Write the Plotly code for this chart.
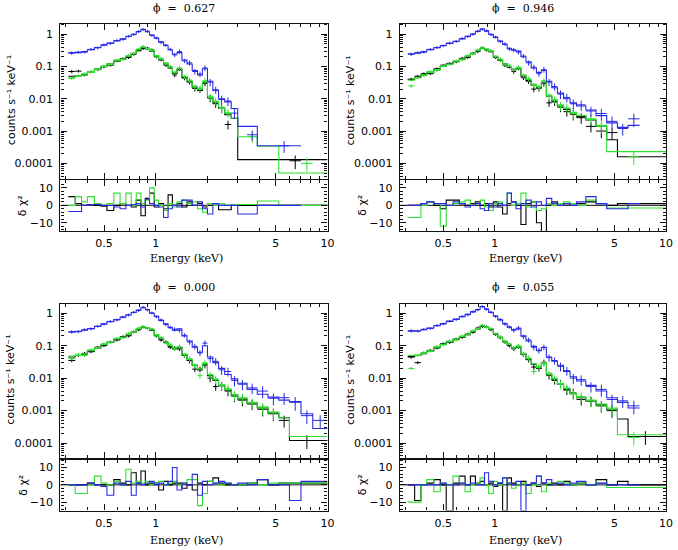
import plotly.graph_objects as go

# ---------------- data ----------------
ENERGY_EDGES = [0.31, 0.34, 0.37, 0.40, 0.44, 0.48, 0.52, 0.57, 0.62, 0.67, 0.72, 0.77, 0.82, 0.87,
                0.92, 0.98, 1.04, 1.11, 1.18, 1.25, 1.33, 1.42, 1.52, 1.63, 1.75, 1.87, 2.00, 2.15,
                2.32, 2.52, 2.75, 3.0, 3.4, 3.9, 4.5, 5.2, 6.0, 7.0, 8.2, 10.0]
REL_ERR = [0.12, 0.1, 0.1, 0.1, 0.1, 0.1, 0.1, 0.1, 0.1, 0.1, 0.1, 0.1, 0.1, 0.1, 0.1, 0.1, 0.12, 0.12,
           0.12, 0.15, 0.15, 0.15, 0.18, 0.2, 0.2, 0.2, 0.25, 0.25, 0.3, 0.3, 0.35, 0.35, 0.35, 0.4,
           0.4, 0.4, 0.45, 0.45, 0.45]

TITLES = ["\u03d5  =  0.627", "\u03d5  =  0.946", "\u03d5  =  0.000", "\u03d5  =  0.055"]

# phase 0.627
P1_BLACK_MODEL = [0.05, 0.052, 0.056, 0.066, 0.083, 0.10, 0.12, 0.145, 0.17, 0.20, 0.25, 0.31, 0.38, 0.35, 0.30, 0.21, 0.16, 0.12, 0.09, 0.062, 0.08, 0.046, 0.033, 0.023, 0.018, 0.03, 0.011, 0.0075, 0.005, 0.0032, 0.0025, 0.00013, 0.00013, 0.00013, 0.00013, 0.00013, 0.00013, 0.00013, 0.00013]
P1_BLACK_DATA = [0.07, 0.072, 0.055, 0.068, 0.08, 0.098, 0.11, 0.15, 0.175, 0.19, 0.24, 0.33, 0.36, 0.37, 0.33, 0.2, 0.165, 0.11, 0.095, 0.055, 0.085, 0.044, 0.034, 0.021, 0.019, 0.031, 0.0105, 0.007, 0.0052, 0.0016, None, None, None, None, None, None, 0.00012, None, None]
P1_BLACK_RESID = [5, 1, 0, 0.5, 0, -0.5, -3, 0, 1, 0, -1, 3, -6, 4, 7, -1, 1, -2, 6, 0, 1, -1, 2, 0, 1, -1, 0, 0, -2.5, -2.5, 0, 0, 0, 0, 0, 0, 0, 0, 0]
P1_GREEN_MODEL = [0.045, 0.05, 0.055, 0.065, 0.085, 0.10, 0.12, 0.15, 0.17, 0.21, 0.26, 0.33, 0.40, 0.36, 0.31, 0.22, 0.17, 0.13, 0.095, 0.068, 0.085, 0.05, 0.036, 0.025, 0.02, 0.034, 0.012, 0.008, 0.0055, 0.0035, 0.0025, 0.00067, 0.00067, 0.00034, 0.00034, 0.00005, 0.00005, 0.00005, 0.00005]
P1_GREEN_DATA = [0.043, 0.052, 0.06, 0.07, 0.08, 0.105, 0.115, 0.16, 0.165, 0.22, 0.25, 0.35, 0.42, 0.34, 0.33, 0.21, 0.18, 0.12, 0.1, 0.065, 0.09, 0.048, 0.038, 0.023, 0.021, 0.036, 0.011, 0.0085, 0.005, 0.0037, None, None, 0.00067, None, None, None, None, 0.0001, None]
P1_GREEN_RESID = [0, 5, 2, 5, 1, 0, 1, 7, 1, 7, 0, 7, 1, 3, 10, 3, 0, -3, 1, -1, 2, 3, 1, 2, -2, -4, 1, 0, 1, 0, 0.5, 0.5, 0.5, 2.5, 2.5, 0, 0, 0, 0]
P1_BLUE_MODEL = [0.27, 0.27, 0.29, 0.33, 0.39, 0.46, 0.53, 0.62, 0.72, 0.85, 1.0, 1.2, 1.42, 1.2, 0.95, 0.75, 0.58, 0.45, 0.33, 0.24, 0.27, 0.16, 0.12, 0.075, 0.055, 0.085, 0.035, 0.018, 0.010, 0.008, 0.005, 0.0014, 0.0014, 0.00035, 0.00035, 0.00035, 0.00035]
P1_BLUE_DATA = [0.26, 0.28, 0.28, 0.34, 0.38, 0.47, 0.52, 0.64, 0.70, 0.87, 0.98, 1.22, 1.40, 1.24, 0.92, 0.77, 0.56, 0.46, 0.34, 0.23, 0.29, 0.15, 0.13, 0.07, 0.058, 0.09, 0.033, 0.019, 0.0095, 0.0085, 0.0036, None, 0.00077, None, None, 0.00035, None]
P1_BLUE_RESID = [-3.5, -3.5, 0, 0.5, 0.5, 0, 0, -1, -2, 0, 0.5, 1, -1, 3.5, 1, 0, -1, -7, -2, 0, -1, 3, 3, 0, 2, -2, -5, 1, 0, 0, 0, -5, -5, 0, 0, 0, 0]

# phase 0.946
P2_BLACK_MODEL = [0.04, 0.046, 0.055, 0.066, 0.082, 0.1, 0.12, 0.145, 0.17, 0.2, 0.25, 0.3, 0.36, 0.34, 0.29, 0.2, 0.155, 0.12, 0.095, 0.08, 0.085, 0.05, 0.037, 0.026, 0.022, 0.031, 0.012, 0.0085, 0.006, 0.0047, 0.0036, 0.0028, 0.0022, 0.0014, 0.00054, 0.00016, 0.00016, 0.00016, 0.00016]
P2_BLACK_DATA = [0.04, 0.05, 0.06, 0.06, 0.085, 0.11, 0.125, 0.14, 0.18, 0.19, 0.26, 0.29, 0.38, 0.32, 0.3, 0.19, 0.16, 0.11, 0.1, 0.07, 0.09, 0.045, 0.035, 0.02, 0.021, 0.03, 0.0075, 0.008, 0.0055, 0.004, 0.0033, 0.0026, 0.0014, 0.001, 0.0009, None, None, None, None]
P2_BLACK_RESID = [0, 0, 1, 2, 0, -2, 3, 3, 1, 0, 1, 2, 0, 1, -1, 2, -1, -5, 1, 2, 0, -11, 1, 2, -10, -15, 0, 2, 1, 1, 0, 1, 2, 1, 0, 1, 1, 1, 1]
P2_GREEN_MODEL = [0.038, 0.045, 0.055, 0.065, 0.08, 0.1, 0.12, 0.14, 0.17, 0.21, 0.26, 0.31, 0.37, 0.35, 0.3, 0.21, 0.16, 0.12, 0.1, 0.085, 0.09, 0.055, 0.04, 0.028, 0.024, 0.034, 0.013, 0.009, 0.0065, 0.005, 0.0038, 0.003, 0.0023, 0.0015, 0.00023, 0.00023, 0.00023, 0.00023, 0.00023]
P2_GREEN_DATA = [0.025, 0.045, 0.052, 0.07, 0.075, 0.105, 0.115, 0.15, 0.16, 0.22, 0.25, 0.33, 0.38, 0.33, 0.31, 0.2, 0.17, 0.115, 0.11, 0.08, 0.095, 0.052, 0.042, 0.026, 0.022, 0.036, 0.012, 0.0095, 0.006, 0.0052, 0.0035, None, 0.0024, 0.0014, None, None, 0.00016, None, None]
P2_GREEN_RESID = [-7, -7, 0, 2, 1, -12, 0, 1, 2, 3, 0, 1, 3, -1, -3, 1, 2, 0, 7, 0, 1, 7, -1, 2, -3, -2, 1, 0, 1, 2, 1, 0, 3, 1, -1.5, -1.5, -1.5, -1.5, -1.5]
P2_BLUE_MODEL = [0.25, 0.26, 0.29, 0.33, 0.38, 0.45, 0.52, 0.61, 0.72, 0.86, 1.02, 1.22, 1.45, 1.25, 1.0, 0.8, 0.62, 0.48, 0.37, 0.32, 0.30, 0.2, 0.14, 0.09, 0.065, 0.075, 0.035, 0.022, 0.015, 0.01, 0.0075, 0.006, 0.0045, 0.003, 0.0018, 0.0013, 0.0015]
P2_BLUE_DATA = [0.24, 0.27, 0.28, 0.34, 0.39, 0.44, 0.53, 0.6, 0.74, 0.85, 1.0, 1.25, 1.43, 1.28, 0.97, 0.82, 0.6, 0.5, 0.35, 0.33, 0.28, 0.21, 0.13, 0.095, 0.06, 0.08, 0.033, 0.024, 0.014, 0.011, 0.007, 0.0065, 0.0042, 0.0035, 0.002, 0.0012, 0.0024]
P2_BLUE_RESID = [0, 0, 1, 2, 1, 1, 0, 2, 1, -1, 0, 1, -2, -3, 1, -1, 1, 0, 7, 2, -2, 1, 3, -1, 2, 0, 4, 1, 0, 1, 0, 2, 5, 1, -2, -2, 1]

# phase 0.000
P3_BLACK_MODEL = [0.045, 0.05, 0.055, 0.068, 0.085, 0.105, 0.125, 0.155, 0.18, 0.21, 0.26, 0.32, 0.37, 0.35, 0.3, 0.21, 0.16, 0.125, 0.095, 0.08, 0.087, 0.052, 0.036, 0.025, 0.018, 0.027, 0.012, 0.0085, 0.006, 0.0043, 0.003, 0.0023, 0.0017, 0.0012, 0.00085, 0.0006, 0.00012, 0.00012, 0.00012]
P3_BLACK_DATA = [0.035, 0.05, 0.058, 0.065, 0.09, 0.1, 0.13, 0.15, 0.19, 0.2, 0.27, 0.31, 0.38, 0.34, 0.31, 0.2, 0.15, 0.13, 0.09, 0.085, 0.08, 0.05, 0.035, 0.019, 0.019, 0.025, 0.01, 0.0055, 0.0058, 0.004, 0.0028, 0.0021, 0.0016, 0.0011, 0.0008, 0.0005, None, 0.00012, None]
P3_BLACK_RESID = [0, 0, 0, 1, 0, 0, 0, 3, 1, 0, 7, 1, 8, 0, 1, 1, -3, 2, 0, 1, 1, -2, 0, -3, 1, 0, 2, 4, 1, 0, 0, 0, 1, 3, 0, 1, 1, 1, 1]
P3_GREEN_MODEL = [0.048, 0.05, 0.056, 0.07, 0.088, 0.11, 0.13, 0.16, 0.18, 0.22, 0.27, 0.33, 0.38, 0.36, 0.31, 0.22, 0.17, 0.13, 0.1, 0.085, 0.09, 0.055, 0.038, 0.026, 0.019, 0.028, 0.013, 0.009, 0.0062, 0.0045, 0.0032, 0.0024, 0.0018, 0.0013, 0.0009, 0.0006, 0.00016, 0.00016, 0.00016]
P3_GREEN_DATA = [0.04, 0.055, 0.05, 0.075, 0.085, 0.115, 0.125, 0.17, 0.175, 0.24, 0.26, 0.35, 0.39, 0.34, 0.33, 0.21, 0.18, 0.12, 0.11, 0.08, 0.095, 0.052, 0.04, 0.024, 0.012, 0.03, 0.0125, 0.0095, 0.006, 0.0047, 0.003, 0.0025, 0.0017, 0.0012, 0.00085, None, None, None, None]
P3_GREEN_RESID = [0, -5, -5, 0, 5, 1, 0, 2, 0, 9, 1, 2, 1, 2, 0, 1, 2, 0, 1, 2, 0, 1, 3, 3, -12, -5, 2, 1, 0, 1, 0, 0, 1, 0, 1, 1, 1, 1, 1]
P3_BLUE_MODEL = [0.26, 0.28, 0.3, 0.34, 0.39, 0.47, 0.55, 0.64, 0.75, 0.9, 1.05, 1.25, 1.5, 1.3, 1.0, 0.8, 0.6, 0.47, 0.36, 0.3, 0.33, 0.2, 0.14, 0.09, 0.063, 0.1, 0.045, 0.03, 0.02, 0.013, 0.0095, 0.007, 0.0045, 0.0032, 0.0026, 0.0021, 0.0019, 0.0008, 0.00028]
P3_BLUE_DATA = [0.27, 0.27, 0.31, 0.33, 0.4, 0.46, 0.56, 0.62, 0.77, 0.88, 1.07, 1.22, 1.52, 1.27, 1.02, 0.78, 0.62, 0.45, 0.37, 0.32, 0.3, 0.21, 0.13, 0.095, 0.06, 0.12, 0.04, 0.033, 0.018, 0.016, 0.0085, 0.0065, 0.005, 0.004, 0.0024, 0.0025, 0.0018, 0.0007, 0.0005]
P3_BLUE_RESID = [0, 0, 0, 1, 0, -1, -6, 1, 0, 2, -6, 1, 0, 1, 2, 0, 1, 0, 2, 10, -3, 1, 0, 6, -6, 2, 0, 1, 2, 1, 0, 1, 0, 3, 0, 0, -9, 2, 2]

# phase 0.055
P4_BLACK_MODEL = [0.046, 0.05, 0.057, 0.069, 0.088, 0.11, 0.13, 0.155, 0.185, 0.22, 0.27, 0.33, 0.4, 0.37, 0.32, 0.23, 0.175, 0.135, 0.105, 0.085, 0.09, 0.055, 0.038, 0.027, 0.02, 0.029, 0.013, 0.009, 0.0065, 0.0046, 0.0033, 0.0025, 0.002, 0.0015, 0.0011, 0.00055, 0.00016, 0.00016, 0.00016]
P4_BLACK_DATA = [0.045, 0.03, 0.06, 0.072, 0.085, 0.115, 0.125, 0.16, 0.18, 0.23, 0.26, 0.35, 0.39, 0.38, 0.31, 0.22, 0.18, 0.13, 0.1, 0.08, 0.095, 0.053, 0.037, 0.022, 0.02, 0.031, 0.012, 0.0085, 0.0068, 0.0043, 0.0035, 0.0022, 0.002, 0.0014, 0.001, None, None, 0.00016, None]
P4_BLACK_RESID = [0, -9, 0, 1, 3, 0, -15, 1, 5, 0, 5, 1, 2, 0, 1, -1, 1, -15, 4, 1, 0, 2, 0, 1, -1, 1, 0, 1, 0, 2, 0, 1, 0, 3, 0, 2, 0, 0, 0]
P4_GREEN_MODEL = [0.05, 0.052, 0.058, 0.07, 0.09, 0.11, 0.13, 0.16, 0.19, 0.23, 0.28, 0.34, 0.41, 0.38, 0.33, 0.24, 0.18, 0.14, 0.11, 0.09, 0.095, 0.058, 0.04, 0.028, 0.021, 0.03, 0.014, 0.0095, 0.0068, 0.0048, 0.0034, 0.0026, 0.0021, 0.0016, 0.0012, 0.00018, 0.00018, 0.00018, 0.00018]
P4_GREEN_DATA = [0.02, 0.05, 0.06, 0.068, 0.095, 0.105, 0.14, 0.15, 0.2, 0.22, 0.29, 0.33, 0.43, 0.37, 0.34, 0.23, 0.19, 0.13, 0.115, 0.085, 0.1, 0.055, 0.042, 0.016, 0.023, 0.028, 0.013, 0.01, 0.0065, 0.005, 0.0032, 0.0027, 0.002, 0.0014, 0.0011, None, 0.00015, None, None]
P4_GREEN_RESID = [-10, -10, 0, 3, -4, 1, 0, 5, 1, -4, 0, 1, 4, 0, -5, 2, 0, 4, 1, -2, 0, 1, -5, 0, 5, -4, 1, 0, 2, 1, 0, 1, 0, 1, -1.5, -1.5, -1.5, -1.5, -1.5]
P4_BLUE_MODEL = [0.28, 0.29, 0.31, 0.35, 0.41, 0.48, 0.56, 0.66, 0.78, 0.92, 1.1, 1.3, 1.6, 1.35, 1.05, 0.82, 0.62, 0.48, 0.37, 0.31, 0.33, 0.2, 0.14, 0.095, 0.07, 0.088, 0.045, 0.033, 0.025, 0.016, 0.011, 0.0082, 0.006, 0.004, 0.0025, 0.0018, 0.0012]
P4_BLUE_DATA = [0.29, 0.28, 0.32, 0.34, 0.42, 0.47, 0.57, 0.64, 0.8, 0.9, 1.12, 1.27, 1.62, 1.33, 1.08, 0.8, 0.64, 0.47, 0.38, 0.3, 0.35, 0.19, 0.15, 0.09, 0.072, 0.09, 0.043, 0.035, 0.023, 0.017, 0.01, 0.009, 0.0055, 0.0045, 0.0022, 0.002, 0.0014]
P4_BLUE_RESID = [0, 0, 0, 0, 0, 1, 0, 0, 1, 0, 1, 0, 0, 7, 2, 0, 1, 4, 1, 0, 2, -15, 0, 1, 5, 1, 3, 0, 1, 0, 1, 2, 0, 1, 0, 0, 0]

X_TICKS = [0.5, 1, 5, 10]
X_TICK_TEXT = ["0.5", "1", "5", "10"]
X_MINOR = [0.3, 0.4, 0.6, 0.7, 0.8, 0.9, 2, 3, 4, 6, 7, 8, 9]
Y_TICKS = [1, 0.1, 0.01, 0.001, 0.0001]
Y_TICK_TEXT = ["1", "0.1", "0.01", "0.001", "0.0001"]
R_TICKS = [-10, 0, 10]
R_TICK_TEXT = ["\u221210", "0", "10"]
R_MINOR = [-14, -12, -8, -6, -4, -2, 2, 4, 6, 8, 12, 14]

# ---------------- styling / layout ----------------
W, H = 678, 550
COLORS = {"black": "#000000", "green": "#30e030", "blue": "#2a2ae6"}
COL_X = [(61, 331), (404, 673)]
ROW_MAIN = [(23.5, 179), (303.5, 458)]
ROW_RES = [(180, 231), (459.5, 510.5)]
MAIN_YRANGE = [(-4.485, 0.333), (-4.46, 0.30)]
RES_YRANGE = [(-14.7, 14.5), (-14.8, 14.6)]
XRANGE = [-0.555, 1.0]
TICK_FONT = dict(family="DejaVu Sans", size=11, color="black")
LABEL_FONT = dict(family="DejaVu Serif", size=11, color="black")

y_minor = [m * 10 ** d for d in range(-5, 1) for m in range(2, 10)]

PANELS = [
    (TITLES[0], [(P1_BLACK_MODEL, P1_BLACK_DATA, P1_BLACK_RESID, "black"),
                 (P1_GREEN_MODEL, P1_GREEN_DATA, P1_GREEN_RESID, "green"),
                 (P1_BLUE_MODEL, P1_BLUE_DATA, P1_BLUE_RESID, "blue")]),
    (TITLES[1], [(P2_BLACK_MODEL, P2_BLACK_DATA, P2_BLACK_RESID, "black"),
                 (P2_GREEN_MODEL, P2_GREEN_DATA, P2_GREEN_RESID, "green"),
                 (P2_BLUE_MODEL, P2_BLUE_DATA, P2_BLUE_RESID, "blue")]),
    (TITLES[2], [(P3_BLACK_MODEL, P3_BLACK_DATA, P3_BLACK_RESID, "black"),
                 (P3_GREEN_MODEL, P3_GREEN_DATA, P3_GREEN_RESID, "green"),
                 (P3_BLUE_MODEL, P3_BLUE_DATA, P3_BLUE_RESID, "blue")]),
    (TITLES[3], [(P4_BLACK_MODEL, P4_BLACK_DATA, P4_BLACK_RESID, "black"),
                 (P4_GREEN_MODEL, P4_GREEN_DATA, P4_GREEN_RESID, "green"),
                 (P4_BLUE_MODEL, P4_BLUE_DATA, P4_BLUE_RESID, "blue")]),
]


def fit(lst, n):
    lst = list(lst[:n])
    return lst + [None] * (n - len(lst))


def ax_name(k, letter):
    return letter if k == 1 else f"{letter}{k}"


def px(xp):
    return xp / W


def py(yp):
    return 1 - yp / H


fig = go.Figure()
layout = {}
shapes = []
annotations = []

common_axis = dict(showline=True, linecolor="#111111", linewidth=1.3, mirror="ticks",
                   ticks="inside", tickcolor="#111111", tickwidth=1, ticklen=6,
                   showgrid=False, zeroline=False)

for i, (title, series) in enumerate(PANELS):
    col, row = i % 2, i // 2
    km, kr = 2 * i + 1, 2 * i + 2
    xm, ym, xr, yr = ax_name(km, "x"), ax_name(km, "y"), ax_name(kr, "x"), ax_name(kr, "y")

    for model, data, resid, cname in series:
        c = COLORS[cname]
        n = len(model)
        edges = ENERGY_EDGES[:n + 1]
        centers = [(ENERGY_EDGES[j] * ENERGY_EDGES[j + 1]) ** 0.5 for j in range(n)]
        dvals = fit(data, n)
        err = [(d * REL_ERR[j] if d is not None else 0) for j, d in enumerate(dvals)]
        ex_plus = [ENERGY_EDGES[j + 1] - centers[j] for j in range(n)]
        ex_minus = [centers[j] - ENERGY_EDGES[j] for j in range(n)]
        fig.add_trace(go.Scatter(
            x=centers, y=dvals, mode="markers", marker=dict(size=1, color=c),
            error_y=dict(type="data", array=err, visible=True, color=c, thickness=1, width=0),
            error_x=dict(type="data", array=ex_plus, arrayminus=ex_minus, symmetric=False,
                         visible=True, color=c, thickness=1, width=0),
            xaxis=xm, yaxis=ym, hoverinfo="skip", showlegend=False))
        fig.add_trace(go.Scatter(
            x=edges, y=list(model) + [model[-1]], mode="lines",
            line=dict(color=c, width=1.1, shape="hv"),
            xaxis=xm, yaxis=ym, hoverinfo="skip", showlegend=False))
        rvals = fit(resid, n)
        fig.add_trace(go.Scatter(
            x=edges, y=rvals + [rvals[-1]], mode="lines",
            line=dict(color=c, width=1.1, shape="hv"),
            xaxis=xr, yaxis=yr, hoverinfo="skip", showlegend=False))

    x0, x1 = COL_X[col]
    mt, mb = ROW_MAIN[row]
    rt, rb = ROW_RES[row]

    layout["xaxis" + ("" if km == 1 else str(km))] = dict(
        common_axis, type="log", domain=[px(x0), px(x1)], range=XRANGE, anchor=ym,
        tickmode="array", tickvals=X_TICKS, showticklabels=False,
        minor=dict(tickmode="array", tickvals=X_MINOR, ticks="inside", ticklen=3,
                   tickcolor="#111111", showgrid=False))
    layout["yaxis" + ("" if km == 1 else str(km))] = dict(
        common_axis, type="log", domain=[py(mb), py(mt)], range=list(MAIN_YRANGE[row]), anchor=xm,
        tickmode="array", tickvals=Y_TICKS, ticktext=Y_TICK_TEXT, tickfont=TICK_FONT,
        ticklabelstandoff=4,
        minor=dict(tickmode="array", tickvals=y_minor, ticks="inside", ticklen=3,
                   tickcolor="#111111", showgrid=False))
    layout["xaxis" + str(kr)] = dict(
        common_axis, type="log", domain=[px(x0), px(x1)], range=XRANGE, anchor=yr,
        tickmode="array", tickvals=X_TICKS, ticktext=X_TICK_TEXT, tickfont=TICK_FONT,
        ticklabelstandoff=2,
        minor=dict(tickmode="array", tickvals=X_MINOR, ticks="inside", ticklen=3,
                   tickcolor="#111111", showgrid=False))
    layout["yaxis" + str(kr)] = dict(
        common_axis, domain=[py(rb), py(rt)], range=list(RES_YRANGE[row]), anchor=xr,
        tickmode="array", tickvals=R_TICKS, ticktext=R_TICK_TEXT, tickfont=TICK_FONT,
        ticklabelstandoff=4,
        minor=dict(tickmode="array", tickvals=R_MINOR, ticks="inside", ticklen=3,
                   tickcolor="#111111", showgrid=False))

    shapes.append(dict(type="line", xref=f"{xr} domain", x0=0, x1=1, yref=yr, y0=0, y1=0,
                       line=dict(color="#111111", width=1), layer="below"))

    cx = (x0 + x1) / 2 - 10
    title_y = 9 if row == 0 else 287
    xlabel_y = 258.5 if row == 0 else 540
    annotations.append(dict(text=title, x=px(cx), y=py(title_y), xref="paper", yref="paper",
                            showarrow=False, xanchor="center", yanchor="middle", font=LABEL_FONT))
    annotations.append(dict(text="Energy (keV)", x=px(cx + 2), y=py(xlabel_y), xref="paper",
                            yref="paper", showarrow=False, xanchor="center", yanchor="middle",
                            font=LABEL_FONT))
    annotations.append(dict(text="counts s\u207b\u00b9 keV\u207b\u00b9",
                            x=px(x0 - 50), y=py((mt + mb) / 2 - 1), xref="paper", yref="paper",
                            showarrow=False, textangle=-90, xanchor="center", yanchor="middle",
                            font=TICK_FONT))
    annotations.append(dict(text="\u03b4 \u03c7\u00b2", x=px(x0 - 38), y=py((rt + rb) / 2),
                            xref="paper", yref="paper", showarrow=False, textangle=-90,
                            xanchor="center", yanchor="middle", font=TICK_FONT))

fig.update_layout(
    width=W, height=H, margin=dict(l=0, r=0, t=0, b=0),
    paper_bgcolor="white", plot_bgcolor="white", showlegend=False,
    shapes=shapes, annotations=annotations, **layout)

fig.write_html("out.html")
